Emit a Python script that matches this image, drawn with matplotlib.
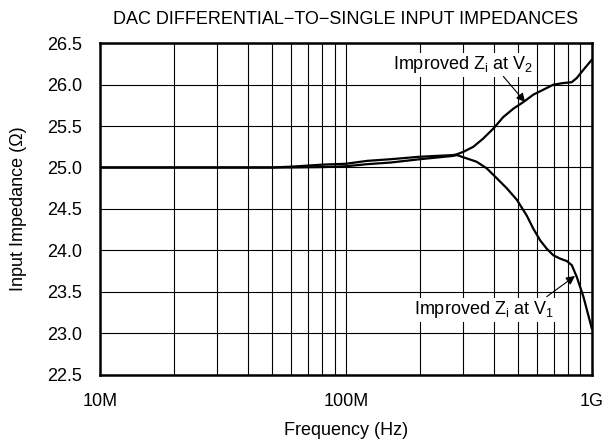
import numpy as np
import matplotlib
matplotlib.use("Agg")
import matplotlib.pyplot as plt
from matplotlib.ticker import LogLocator, NullFormatter, FixedLocator

plt.rcParams['font.family'] = ['Liberation Sans', 'DejaVu Sans']

# frequencies in MHz, impedances in ohm
freq_v2 = [10, 50, 60, 81, 100, 122, 152, 200, 273, 283, 301, 330, 362, 398, 437, 480,
           527, 579, 636, 698, 767, 829, 869, 925, 1000]
z_v2    = [25.00, 25.00, 25.01, 25.035, 25.045, 25.08, 25.10, 25.13, 25.15, 25.16, 25.19,
           25.25, 25.35, 25.47, 25.61, 25.71, 25.79, 25.88, 25.94, 26.00, 26.02, 26.03,
           26.08, 26.18, 26.30]

freq_v1 = [10, 60, 81, 100, 122, 152, 200, 273, 283, 310, 340, 374, 411, 451, 496, 544,
           579, 617, 656, 698, 743, 792, 830, 869, 925, 1000]
z_v1    = [25.00, 25.00, 25.005, 25.015, 25.04, 25.06, 25.10, 25.14, 25.15, 25.11, 25.07,
           24.99, 24.87, 24.75, 24.61, 24.42, 24.26, 24.12, 24.02, 23.94, 23.90, 23.87,
           23.82, 23.68, 23.44, 23.06]

xticks      = [10e6, 100e6, 1e9]
xticklabels = ["10M", "100M", "1G"]
yticks      = [22.5, 23.0, 23.5, 24.0, 24.5, 25.0, 25.5, 26.0, 26.5]

fig = plt.figure(figsize=(6.03, 4.44), dpi=100)
ax = fig.add_axes([0.1658, 0.1565, 0.8155, 0.746])

ax.plot(np.array(freq_v2) * 1e6, z_v2, color="black", lw=1.6, zorder=3)
ax.plot(np.array(freq_v1) * 1e6, z_v1, color="black", lw=1.6, zorder=3)

ax.set_xscale("log")
ax.set_xlim(10e6, 1e9)
ax.set_ylim(22.5, 26.5)
ax.xaxis.set_major_locator(FixedLocator(xticks))
ax.set_xticklabels(xticklabels)
ax.xaxis.set_minor_locator(LogLocator(base=10, subs=np.arange(2, 10)))
ax.xaxis.set_minor_formatter(NullFormatter())
ax.set_yticks(yticks)
ax.set_yticklabels([f"{v:.1f}" for v in yticks])

ax.grid(True, which="both", axis="x", color="black", lw=0.8)
ax.grid(True, which="major", axis="y", color="black", lw=0.8)
ax.tick_params(which="both", length=0, labelsize=13, pad=13)
for s in ax.spines.values():
    s.set_linewidth(1.8)

ax.set_title("DAC DIFFERENTIAL\u2212TO\u2212SINGLE INPUT IMPEDANCES", fontsize=13, pad=14)
ax.set_xlabel("Frequency (Hz)", fontsize=13)
ax.set_ylabel("Input Impedance (\u03a9)", fontsize=13)
ax.xaxis.set_label_coords(0.5, -0.143)
ax.yaxis.set_label_coords(-0.148, 0.5)

box = dict(facecolor="white", edgecolor="none", pad=1)
arrow = dict(arrowstyle="-|>", color="black", lw=0.8, mutation_scale=13,
             shrinkA=0, shrinkB=0)

ax.text(300e6, 26.24, r"Improved Z$_\mathregular{i}$ at V$_\mathregular{2}$",
        ha="center", va="center", fontsize=13, bbox=box, zorder=4)
ax.annotate("", xy=(536e6, 25.79), xytext=(437e6, 26.10), arrowprops=arrow, zorder=4)

ax.text(365e6, 23.28, r"Improved Z$_\mathregular{i}$ at V$_\mathregular{1}$",
        ha="center", va="center", fontsize=13, bbox=box, zorder=4)
ax.annotate("", xy=(855e6, 23.69), xytext=(656e6, 23.44), arrowprops=arrow, zorder=4)

fig.savefig("out.png", dpi=100)
